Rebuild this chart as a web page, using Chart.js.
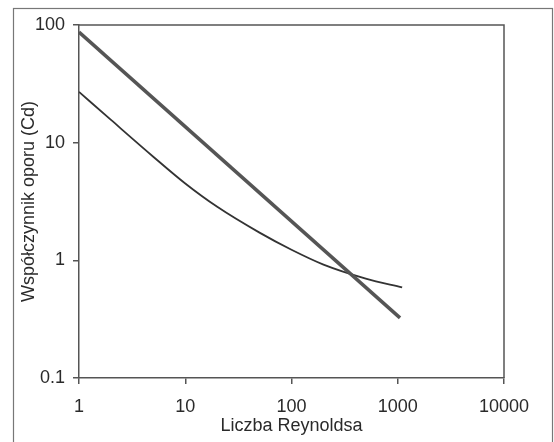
<!DOCTYPE html>
<html lang="pl">
<head>
  <meta charset="UTF-8" />
  <title>Współczynnik oporu</title>
  <script src="https://cdn.jsdelivr.net/npm/chart.js"></script>
  <style>
    body {
      margin: 0;
      background-color: #ffffff;
    }
    #wrap {
      width: 554px;
      height: 442px;
    }
  </style>
</head>
<body>
  <div id="wrap"><canvas id="cdChart" width="554" height="442"></canvas></div>

  <script>
    // values
    const reynoldsThin = [1, 2, 5, 10, 20, 50, 100, 200, 500, 1100];
    const cdThin = [27, 15.6, 7.6, 4.5, 2.85, 1.72, 1.23, 0.92, 0.70, 0.59];

    const reynoldsThick = [1, 1050];
    const cdThick = [87, 0.324];

    const xTicks = [1, 10, 100, 1000, 10000];
    const yTicks = [0.1, 1, 10, 100];

    const ink = "#2a2a2a";
    const tickFont = { family: "'Liberation Sans', Arial, sans-serif", size: 18 };

    function toPoints(xs, ys) {
      return xs.map((x, i) => ({ x: x, y: ys[i] }));
    }

    const framePlugin = {
      id: "frame",
      afterDraw(chart) {
        const ctx = chart.ctx;
        const a = chart.chartArea;
        ctx.save();
        ctx.strokeStyle = "#555555";
        ctx.lineWidth = 1.5;
        ctx.beginPath();
        ctx.moveTo(a.left, a.top);
        ctx.lineTo(a.right, a.top);
        ctx.lineTo(a.right, a.bottom);
        ctx.stroke();
        ctx.strokeStyle = "#777777";
        ctx.lineWidth = 1.2;
        ctx.strokeRect(13.5, 8.5, 539, 440);
        ctx.restore();
      }
    };

    new Chart(document.getElementById("cdChart"), {
      type: "scatter",
      data: {
        datasets: [
          {
            data: toPoints(reynoldsThick, cdThick),
            showLine: true,
            borderColor: "#555555",
            borderWidth: 3.5,
            pointRadius: 0,
            tension: 0
          },
          {
            data: toPoints(reynoldsThin, cdThin),
            showLine: true,
            borderColor: "#333333",
            borderWidth: 1.8,
            pointRadius: 0,
            cubicInterpolationMode: "monotone"
          }
        ]
      },
      options: {
        responsive: false,
        animation: false,
        layout: { padding: { left: 0, top: 25, right: 50, bottom: 0 } },
        plugins: {
          legend: { display: false },
          tooltip: { enabled: false }
        },
        scales: {
          x: {
            type: "logarithmic",
            min: 1,
            max: 10000,
            afterBuildTicks: scale => {
              scale.ticks = xTicks.map(v => ({ value: v }));
            },
            afterFit: scale => { scale.height = 64; },
            ticks: {
              color: ink,
              font: tickFont,
              padding: 12,
              maxRotation: 0,
              callback: v => String(v)
            },
            grid: { drawOnChartArea: false, tickLength: 6, color: "#555555", lineWidth: 1.5 },
            border: { color: "#555555", width: 1.5 },
            title: {
              display: true,
              text: "Liczba Reynoldsa",
              color: ink,
              font: tickFont,
              padding: { top: 0, bottom: 5 }
            }
          },
          y: {
            type: "logarithmic",
            min: 0.1,
            max: 100,
            afterBuildTicks: scale => {
              scale.ticks = yTicks.map(v => ({ value: v }));
            },
            afterFit: scale => { scale.width = 79; },
            ticks: {
              color: ink,
              font: tickFont,
              padding: 8,
              callback: v => String(v)
            },
            grid: { drawOnChartArea: false, tickLength: 6, color: "#555555", lineWidth: 1.5 },
            border: { color: "#555555", width: 1.5 },
            title: {
              display: true,
              text: "Współczynnik oporu (Cd)",
              color: ink,
              font: tickFont,
              padding: { top: 18, bottom: 0 }
            }
          }
        }
      },
      plugins: [framePlugin]
    });
  </script>
</body>
</html>
